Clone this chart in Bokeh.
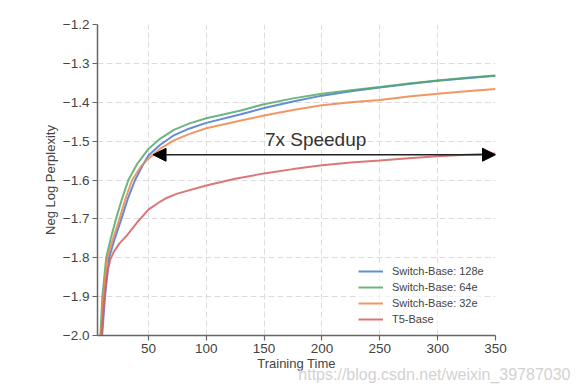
from bokeh.plotting import figure
from bokeh.models import Legend, LegendItem, Arrow, NormalHead, Label, Range1d, FixedTicker, Title
from bokeh.embed import file_html
from bokeh.resources import INLINE

# ---- data ----
t_128e = [9, 10, 12.5, 16, 21, 26.7, 32, 38.5, 45, 50, 60, 72, 85, 100, 130, 150, 175, 200, 225, 250, 275, 300, 325, 350]
v_128e = [-2.06, -2.0, -1.9, -1.8, -1.75, -1.7, -1.65, -1.6, -1.563, -1.537, -1.51, -1.485, -1.468, -1.453, -1.431, -1.415, -1.398, -1.383, -1.372, -1.362, -1.353, -1.345, -1.338, -1.332]

t_64e = [8, 8.5, 10.2, 13.5, 17.5, 22, 27, 32.7, 40, 50, 60, 72, 85, 100, 130, 150, 175, 200, 225, 250, 275, 300, 325, 350]
v_64e = [-2.06, -2.0, -1.9, -1.8, -1.75, -1.7, -1.65, -1.6, -1.56, -1.52, -1.494, -1.471, -1.455, -1.441, -1.421, -1.405, -1.39, -1.378, -1.369, -1.361, -1.352, -1.344, -1.337, -1.331]

t_32e = [8.3, 9, 11, 14.5, 19.5, 25, 30, 36, 43, 50, 60, 72, 85, 100, 130, 150, 175, 200, 225, 250, 275, 300, 325, 350]
v_32e = [-2.06, -2.0, -1.9, -1.8, -1.75, -1.7, -1.65, -1.6, -1.567, -1.545, -1.52, -1.498, -1.482, -1.467, -1.447, -1.434, -1.42, -1.408, -1.4, -1.394, -1.385, -1.378, -1.372, -1.366]

t_t5 = [8.5, 9.5, 12, 13.5, 15, 17, 20, 25, 31.6, 40, 50, 60, 65, 75, 100, 125, 150, 175, 200, 225, 250, 275, 300, 325, 350]
v_t5 = [-2.06, -2.0, -1.9, -1.86, -1.83, -1.805, -1.785, -1.763, -1.742, -1.71, -1.676, -1.656, -1.647, -1.635, -1.614, -1.597, -1.583, -1.572, -1.562, -1.555, -1.55, -1.544, -1.539, -1.535, -1.532]

series_names = ["Switch-Base: 128e", "Switch-Base: 64e", "Switch-Base: 32e", "T5-Base"]
series_t = [t_128e, t_64e, t_32e, t_t5]
series_values = [v_128e, v_64e, v_32e, v_t5]
series_colors = ["#4878D0", "#55A868", "#EE854A", "#D65F5F"]

x_ticks = [50, 100, 150, 200, 250, 300, 350]
y_ticks = [-2.0, -1.9, -1.8, -1.7, -1.6, -1.5, -1.4, -1.3, -1.2]
y_tick_labels = ["\u22122.0", "\u22121.9", "\u22121.8", "\u22121.7", "\u22121.6", "\u22121.5", "\u22121.4", "\u22121.3", "\u22121.2"]

speedup_t = [54, 350]
speedup_y = -1.535
speedup_label = "7x Speedup"
speedup_label_pos = (194.5, -1.4955)
watermark = "https://blog.csdn.net/weixin_39787030"

FONT = "Liberation Sans"
TXT = "#444444"

p = figure(width=576, height=390, output_backend="svg", toolbar_location=None,
           x_range=Range1d(6, 350), y_range=Range1d(-2.0, -1.2),
           min_border_left=97, min_border_right=81, min_border_top=24, min_border_bottom=55)
p.outline_line_color = None
p.background_fill_color = "white"

renderers = []
for name, ts, vals, col in zip(series_names, series_t, series_values, series_colors):
    r = p.line(ts, vals, line_color=col, line_width=2, line_alpha=0.85)
    renderers.append((name, r))

# axes
for ax in (p.xaxis[0], p.yaxis[0]):
    ax.axis_line_color = "#666666"
    ax.axis_line_width = 1.5
    ax.major_tick_line_color = "#666666"
    ax.major_tick_line_width = 1.2
    ax.major_tick_out = 5
    ax.major_tick_in = 0
    ax.minor_tick_line_color = None
    ax.major_label_text_font = FONT
    ax.major_label_text_font_size = "13.5px"
    ax.major_label_text_color = TXT
    ax.axis_label_text_font = FONT
    ax.axis_label_text_font_size = "13px"
    ax.axis_label_text_color = TXT
    ax.axis_label_text_font_style = "normal"

p.xaxis.ticker = FixedTicker(ticks=x_ticks)
p.yaxis.ticker = FixedTicker(ticks=y_ticks)
p.yaxis.major_label_overrides = {v: s for v, s in zip(y_ticks, y_tick_labels)}
p.xaxis.axis_label = "Training Time"
p.yaxis.axis_label = "Neg Log Perplexity"
p.xaxis.axis_label_standoff = 0
p.yaxis.axis_label_standoff = 2
p.xaxis.major_label_standoff = 3
p.yaxis.major_label_standoff = 3

p.xgrid.grid_line_color = "#dddddd"
p.ygrid.grid_line_color = "#dddddd"
p.xgrid.grid_line_dash = "6 3"
p.ygrid.grid_line_dash = "6 3"
p.xgrid.grid_line_width = 1
p.ygrid.grid_line_width = 1

# arrow
arrow = Arrow(x_start=speedup_t[0], y_start=speedup_y, x_end=speedup_t[1], y_end=speedup_y,
              line_color="#222222", line_width=1.3,
              start=NormalHead(size=13, fill_color="black", line_color="black"),
              end=NormalHead(size=13, fill_color="black", line_color="black"))
p.add_layout(arrow)
p.add_layout(Label(x=speedup_label_pos[0], y=speedup_label_pos[1], text=speedup_label,
                   text_align="center", text_baseline="alphabetic", text_font=FONT,
                   text_font_size="19px", text_color="#333333"))

legend = Legend(items=[LegendItem(label=n, renderers=[r]) for n, r in renderers],
                location=(261, 8), border_line_color=None,
                background_fill_color="white", background_fill_alpha=0.6,
                label_text_font=FONT, label_text_font_size="11px", label_text_color=TXT,
                glyph_width=25, glyph_height=16, spacing=0, padding=2, margin=0,
                label_standoff=9, label_height=16)
p.add_layout(legend)

# watermark below the plot
wm = Title(text=watermark, align="right", vertical_align="top", offset=-75, standoff=-16,
           text_font=FONT, text_font_size="16px", text_font_style="normal",
           text_color="#d2d2d2")
p.add_layout(wm, "below")

open("out.html", "w").write(file_html(p, INLINE))
